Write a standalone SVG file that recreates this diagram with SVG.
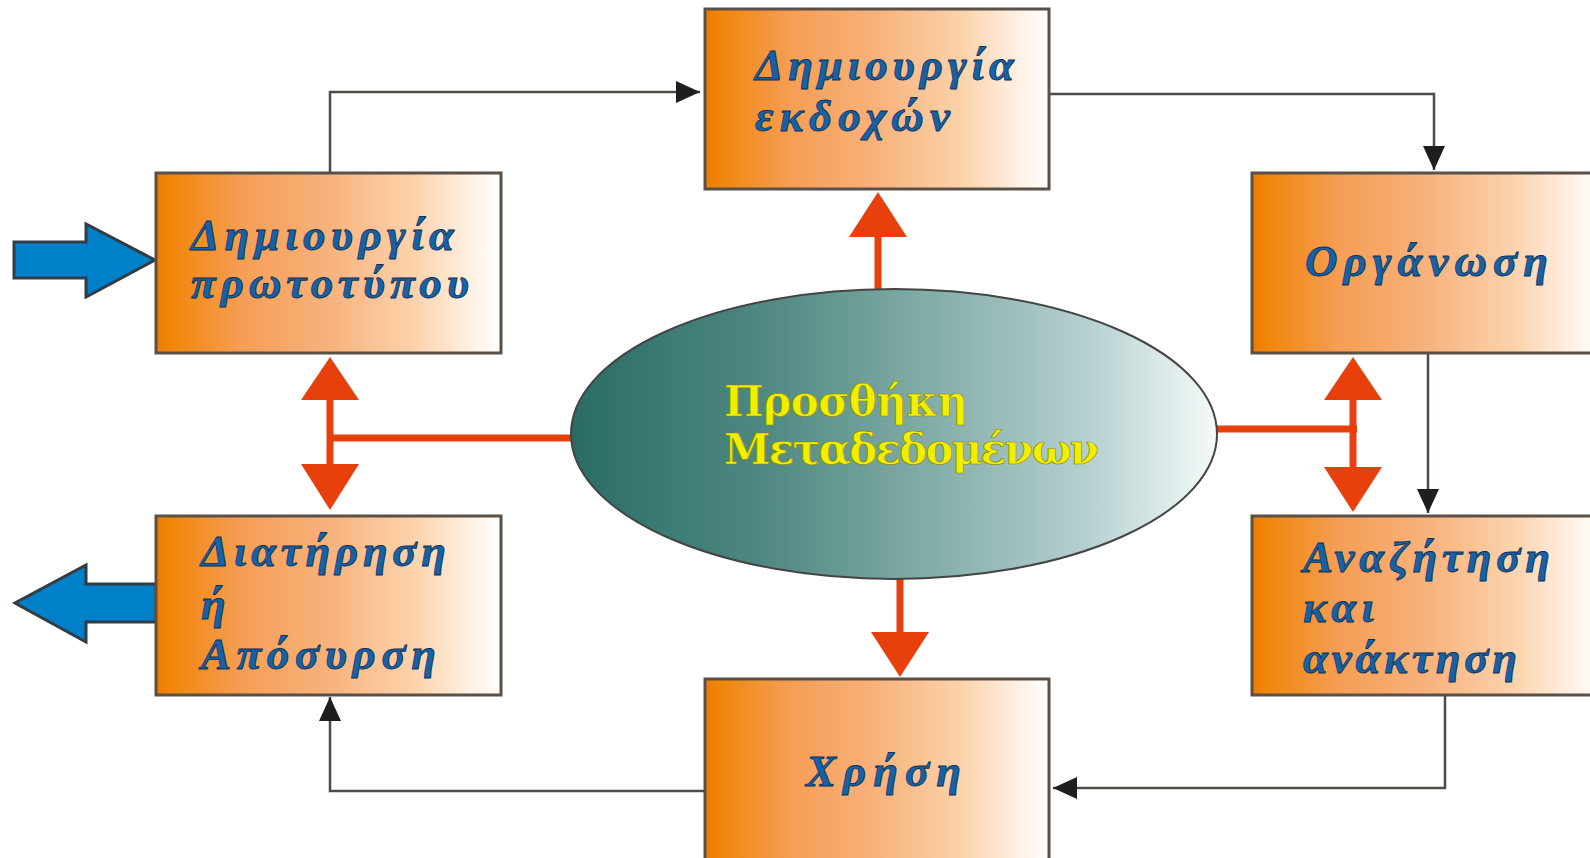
<svg xmlns="http://www.w3.org/2000/svg" width="1590" height="858" viewBox="0 0 1590 858">
<defs>
<linearGradient id="boxGrad" x1="0" y1="0" x2="1" y2="0">
<stop offset="0" stop-color="#EE7C00"/>
<stop offset="0.04" stop-color="#F08508"/>
<stop offset="0.25" stop-color="#F59E55"/>
<stop offset="0.5" stop-color="#F8B27C"/>
<stop offset="0.75" stop-color="#FCD3AC"/>
<stop offset="0.92" stop-color="#FFF2E6"/>
<stop offset="1" stop-color="#FFFFFF"/>
</linearGradient>
<linearGradient id="ellGrad" x1="0" y1="0" x2="1" y2="0">
<stop offset="0" stop-color="#2A6C64"/>
<stop offset="0.3" stop-color="#4F8981"/>
<stop offset="0.6" stop-color="#8CB3AF"/>
<stop offset="0.8" stop-color="#B6D0D0"/>
<stop offset="1" stop-color="#F6FAFA"/>
</linearGradient>
<marker id="ah" markerUnits="userSpaceOnUse" markerWidth="24" markerHeight="22" viewBox="0 0 24 22" refX="24" refY="11" orient="auto">
<path d="M0,0 L24,11 L0,22 z" fill="#1e1e1e"/>
</marker>
</defs>
<style>
.box{fill:url(#boxGrad);stroke:#5a5048;stroke-width:3}
.lbl{font-family:"Liberation Serif","DejaVu Serif",serif;font-style:italic;font-weight:bold;font-size:45px;fill:#1762A6;stroke:#0c2f55;stroke-width:0.8}
.ylbl{font-family:"DejaVu Serif","Liberation Serif",serif;font-weight:bold;font-size:42px;fill:#F2EE00;stroke:#8a8800;stroke-width:0.7}
.blk{fill:none;stroke:#4e4a46;stroke-width:2.5;marker-end:url(#ah)}
.org{fill:none;stroke:#E8400C;stroke-width:7}
.orgh{fill:#E8400C}
.blue{fill:#0080C8;stroke:#333c44;stroke-width:3}
</style>
<rect width="1590" height="858" fill="#FFFFFF"/>
<g id="connectors">
<path class="blk" d="M330,173 V92 H700"/>
<path class="blk" d="M1049,94 H1434 V170"/>
<path class="blk" d="M1428,352 V513"/>
<path class="blk" d="M1445,695 V788 H1053"/>
<path class="blk" d="M704,791 H330 V697"/>
<line class="org" x1="878" y1="292" x2="878" y2="236"/>
<polygon class="orgh" points="849,237 907,237 878,192"/>
<line class="org" x1="900" y1="578" x2="900" y2="633"/>
<polygon class="orgh" points="871,632 929,632 900,677"/>
<path class="org" d="M573,438 H330"/>
<line class="org" x1="330" y1="399" x2="330" y2="465"/>
<polygon class="orgh" points="301,400 359,400 330,357"/>
<polygon class="orgh" points="301,464 359,464 330,510"/>
<path class="org" d="M1215,429 H1357"/>
<line class="org" x1="1353" y1="399" x2="1353" y2="468"/>
<polygon class="orgh" points="1324,400 1382,400 1353,357"/>
<polygon class="orgh" points="1324,467 1382,467 1353,512"/>
<polygon class="blue" points="14,242 86,242 86,224 155,260 86,297 86,278 14,278"/>
<polygon class="blue" points="156,584 86,584 86,565 15,603 86,642 86,622 156,622"/>
</g>
<g id="node-prototype">
<rect class="box" x="156" y="173" width="345" height="180"/>
<text class="lbl" x="191" y="250" textLength="263">Δημιουργία</text>
<text class="lbl" x="191" y="298" textLength="278">πρωτοτύπου</text>
</g>
<g id="node-versions">
<rect class="box" x="705" y="9" width="344" height="180"/>
<text class="lbl" x="755" y="80" textLength="259">Δημιουργία</text>
<text class="lbl" x="755" y="131" textLength="195">εκδοχών</text>
</g>
<g id="node-organization">
<rect class="box" x="1252" y="173" width="350" height="180"/>
<text class="lbl" x="1305" y="276" textLength="243">Οργάνωση</text>
</g>
<g id="node-retention">
<rect class="box" x="156" y="516" width="345" height="179"/>
<text class="lbl" x="201" y="566" textLength="245">Διατήρηση</text>
<text class="lbl" x="201" y="619" textLength="26">ή</text>
<text class="lbl" x="201" y="669" textLength="235">Απόσυρση</text>
</g>
<g id="node-search">
<rect class="box" x="1252" y="516" width="350" height="179"/>
<text class="lbl" x="1303" y="572" textLength="247">Αναζήτηση</text>
<text class="lbl" x="1303" y="622" textLength="71">και</text>
<text class="lbl" x="1303" y="673" textLength="214">ανάκτηση</text>
</g>
<g id="node-use">
<rect class="box" x="705" y="679" width="344" height="185"/>
<text class="lbl" x="806" y="786" textLength="155">Χρήση</text>
</g>
<g id="node-metadata">
<ellipse cx="894" cy="434" rx="323" ry="145" fill="url(#ellGrad)" stroke="#444444" stroke-width="2"/>
<text class="ylbl" x="724" y="416" textLength="244">Προσθήκη</text>
<text class="ylbl" x="724" y="464" textLength="375">Μεταδεδομένων</text>
</g>
</svg>
